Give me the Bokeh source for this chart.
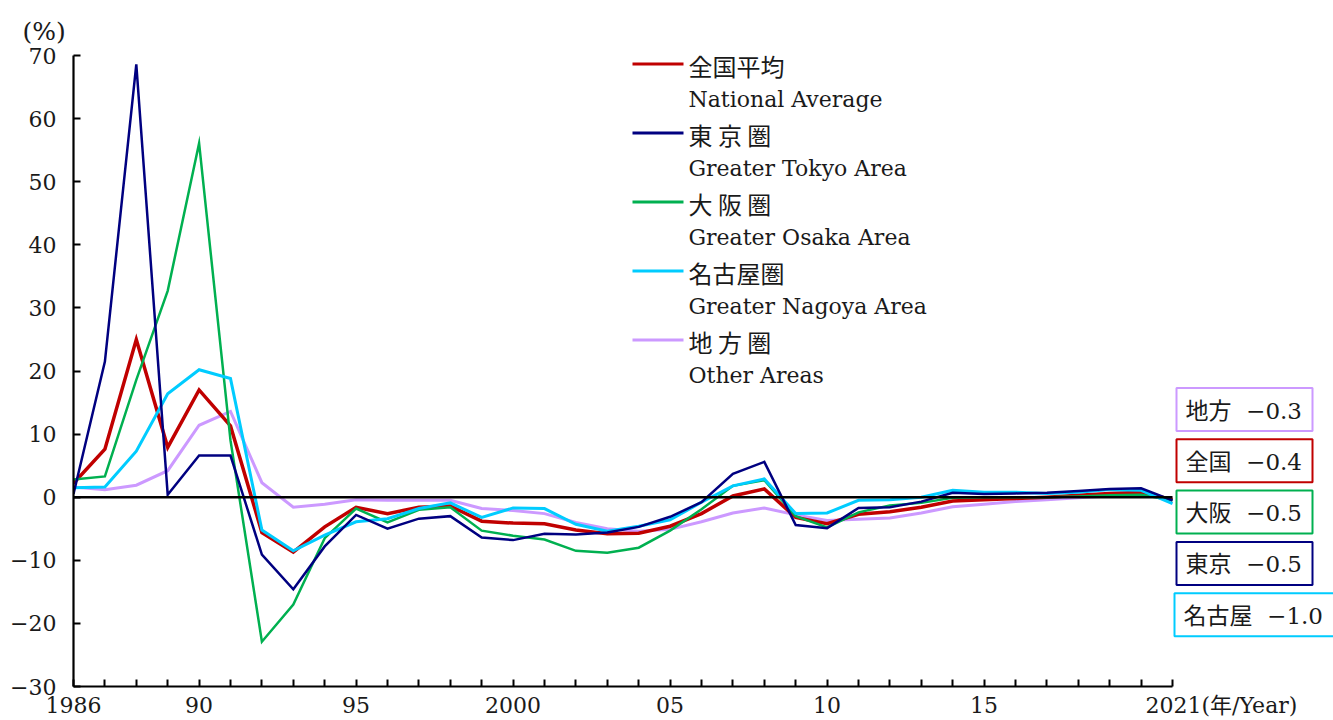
from bokeh.plotting import figure
from bokeh.models import Range1d, FixedTicker
from bokeh.core.properties import value
from bokeh.embed import file_html
from bokeh.resources import INLINE

# ---------------- data ----------------
years = list(range(1986, 2022))
national = [2.2, 7.6, 25.0, 7.9, 17.0, 11.3, -5.6, -8.7, -4.7, -1.6, -2.6, -1.6, -1.4, -3.8, -4.1, -4.2,
            -5.2, -5.8, -5.7, -4.6, -2.6, 0.2, 1.3, -3.2, -4.2, -2.7, -2.3, -1.6, -0.6, -0.4, -0.2, 0.0,
            0.3, 0.6, 0.8, -0.4]
tokyo = [0.5, 21.5, 68.6, 0.4, 6.6, 6.6, -9.1, -14.6, -7.8, -2.8, -5.0, -3.4, -3.0, -6.4, -6.8, -5.8,
         -5.9, -5.6, -4.7, -3.1, -0.8, 3.7, 5.6, -4.4, -4.9, -1.7, -1.6, -0.7, 0.7, 0.5, 0.6, 0.7,
         1.0, 1.3, 1.4, -0.5]
osaka = [2.8, 3.3, 18.6, 32.7, 56.1, 9.0, -22.9, -17.0, -6.5, -1.8, -4.0, -2.0, -1.6, -5.3, -6.1, -6.7,
         -8.5, -8.8, -8.0, -5.3, -1.9, 1.8, 2.7, -3.0, -4.8, -2.4, -1.3, -0.9, -0.1, 0.0, 0.0, 0.0,
         0.1, 0.3, 0.4, -0.5]
nagoya = [1.5, 1.6, 7.3, 16.4, 20.2, 18.8, -5.2, -8.5, -6.0, -3.9, -3.4, -1.8, -0.9, -3.2, -1.7, -1.8,
          -4.3, -5.4, -4.6, -3.6, -0.8, 1.8, 2.9, -2.6, -2.5, -0.5, -0.4, 0.0, 1.1, 0.8, 0.8, 0.6,
          0.8, 1.2, 1.1, -1.0]
other = [1.6, 1.2, 1.9, 4.2, 11.4, 13.6, 2.3, -1.6, -1.1, -0.4, -0.5, -0.5, -0.5, -1.8, -2.1, -2.6,
         -4.0, -5.0, -5.4, -5.1, -3.9, -2.5, -1.7, -2.8, -3.7, -3.5, -3.3, -2.5, -1.5, -1.1, -0.7, -0.4,
         -0.1, 0.2, 0.5, -0.3]

legend_jp = ["全国平均", "東 京 圏", "大 阪 圏", "名古屋圏", "地 方 圏"]
legend_en = ["National Average", "Greater Tokyo Area", "Greater Osaka Area", "Greater Nagoya Area", "Other Areas"]
short_names = ["全国", "東京", "大阪", "名古屋", "地方"]
colors = ["#C00000", "#000080", "#00B050", "#00CCFF", "#CC99FF"]
widths = [3.5, 2.5, 2.5, 3.0, 3.0]
all_series = [national, tokyo, osaka, nagoya, other]
draw_order = [4, 0, 2, 3, 1]
box_order = [4, 0, 2, 1, 3]

x_tick_labels = {1986: "1986", 1990: "90", 1995: "95", 2000: "2000", 2005: "05", 2010: "10", 2015: "15", 2021: "2021"}
year_unit = "(年/Year)"
y_ticks = [-30, -20, -10, 0, 10, 20, 30, 40, 50, 60, 70]
y_unit = "(%)"

# ---------------- layout ----------------
W, H = 1333, 720
BL, BR, BT, BB = 73, 0, 55, 34
frame_w = W - BL - BR
span_px = 1099.0           # pixels from first to last year
X0, X1 = years[0], years[-1]
x_end = X0 + (X1 - X0) * frame_w / span_px
Y0, Y1 = -30, 70
frame_h = H - BT - BB
ppx = span_px / (X1 - X0)
ppy = frame_h / (Y1 - Y0)

def wx(px):
    return X0 + (px - BL) / ppx

def wy(py):
    return Y1 - (py - BT) / ppy

SERIF = "DejaVu Serif"
MIX = "DejaVu Serif, Noto Sans CJK JP"
CJK = "Noto Sans CJK JP"
TXT = "#1a1a1a"

p = figure(width=W, height=H, x_range=Range1d(X0, x_end), y_range=Range1d(Y0, Y1),
           output_backend="svg", toolbar_location=None,
           min_border_left=BL, min_border_right=BR, min_border_top=BT, min_border_bottom=BB)
p.outline_line_color = None
p.xgrid.visible = False
p.ygrid.visible = False
p.background_fill_color = "white"
p.border_fill_color = "white"

# y unit as a left-aligned title above the axis
p.title.text = y_unit
p.title.text_font = SERIF
p.title.text_font_size = "25px"
p.title.text_font_style = "normal"
p.title.text_color = TXT
p.title.align = "left"
p.title.offset = -51
p.title.standoff = 20

# axes
pad = "\u00a0" * 14
xa = p.xaxis[0]
xa.ticker = FixedTicker(ticks=years)
labels = {y: x_tick_labels.get(y, "") for y in years}
labels[X1] = pad + labels[X1] + year_unit
xa.major_label_overrides = labels
xa.bounds = (X0, X1)
ya = p.yaxis[0]
ya.ticker = FixedTicker(ticks=y_ticks)
ya.major_label_overrides = {t: (str(t).replace("-", "\u2212")) for t in y_ticks}
for ax in (xa, ya):
    ax.axis_line_width = 2.2
    ax.axis_line_color = "black"
    ax.major_tick_line_width = 2
    ax.major_tick_line_color = "black"
    ax.major_tick_in = 7
    ax.major_tick_out = 0
    ax.minor_tick_line_color = None
    ax.major_label_text_font_size = "22px"
    ax.major_label_text_color = TXT
xa.major_label_text_font = MIX
ya.major_label_text_font = SERIF
xa.major_label_standoff = 6
ya.major_label_standoff = 17

# series
for i in draw_order:
    p.line(years, all_series[i], line_color=colors[i], line_width=widths[i], line_join="miter")

# zero line
p.segment(x0=[X0], y0=[0], x1=[X1], y1=[0], line_color="black", line_width=2.5)

# legend
leg_y0, leg_dy, en_dy = 63.5, 69.0, 35.5
for k in range(5):
    yy = leg_y0 + k * leg_dy
    p.segment(x0=[wx(632)], y0=[wy(yy)], x1=[wx(683)], y1=[wy(yy)], line_color=colors[k], line_width=3)
    p.text(x=[wx(688)], y=[wy(yy + 1)], text=[legend_jp[k]], text_font=value(CJK), text_font_size="24px",
           text_baseline="middle", text_align="left", text_color=TXT)
    p.text(x=[wx(688)], y=[wy(yy + en_dy)], text=[legend_en[k]], text_font=value(SERIF), text_font_size="22px",
           text_baseline="middle", text_align="left", text_color=TXT)

# end-value boxes
box_top0, box_dy, box_h = 387.5, 51.3, 43
for n, i in enumerate(box_order):
    top = box_top0 + n * box_dy
    last = n == len(box_order) - 1
    left_px = 1174 if last else 1176
    right_px = 1350 if last else 1312
    p.quad(left=[wx(left_px)], right=[wx(right_px)], top=[wy(top)], bottom=[wy(top + box_h)],
           fill_color="white", line_color=colors[i], line_width=2)
    lbl = short_names[i] + "\u00a0\u00a0" + f"{all_series[i][-1]:.1f}".replace("-", "\u2212")
    p.text(x=[wx(left_px + 9)], y=[wy(top + box_h / 2 + 1)], text=[lbl], text_font=value(MIX),
           text_font_size="23px", text_baseline="middle", text_align="left", text_color=TXT)

open("out.html", "w").write(file_html(p, INLINE))
